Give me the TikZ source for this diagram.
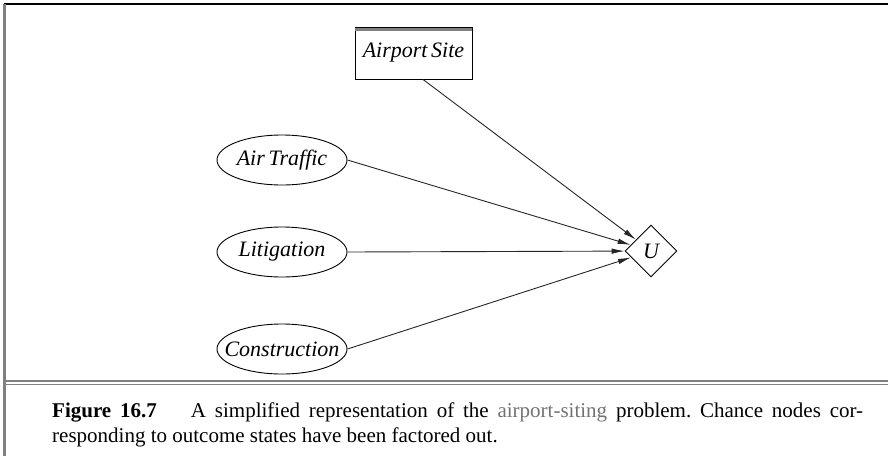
\documentclass[tikz,border=0pt]{standalone}
\usepackage{fontspec}
\setmainfont{Liberation Serif}
\usetikzlibrary{arrows.meta,positioning,shapes.geometric}

\begin{document}
\begin{tikzpicture}[x=1pt, y=-1pt, >={Latex[length=13pt, width=5.5pt]},
  every node/.style={font=\fontsize{22}{25}\selectfont\itshape},
  chance/.style={draw, ellipse, minimum width=130pt, minimum height=50pt, inner sep=0pt, line width=0.9pt},
  decision/.style={draw, rectangle, minimum width=117pt, minimum height=52pt, inner sep=0pt, line width=0.9pt},
  utility/.style={draw, diamond, minimum width=52pt, minimum height=52pt, inner sep=0pt, line width=0.9pt},
  link/.style={->, line width=0.9pt, black!85}]
\useasboundingbox (0,0) rectangle (888,456);
% frame
\draw[line width=1.7pt] (4,4) -- (888,4);
\draw[gray, line width=2.5pt] (4.7,4) -- (4.7,456);
\draw[gray, line width=1.6pt] (4,381) -- (888,381) (4,384.5) -- (888,384.5);
% nodes
\node[decision] (site) at (413.5,53) {\makebox[0pt]{Airport\,Site}};
\draw[gray, line width=3pt] ([yshift=-2.5pt]site.north west) -- ([yshift=-2.5pt]site.north east);
\node[chance] (traffic) at (282,160) {\makebox[0pt]{Air\,Traffic}};
\node[chance] (litig) at (282,252) {\makebox[0pt]{Litigation}};
\node[chance] (constr) at (282,349) {\makebox[0pt]{Construction}};
\node[utility] (u) at (651,251) {\makebox[0pt]{U}};
% links
\draw[link] ([xshift=9.5pt]site.south) -- (u);
\draw[link] (traffic.east) -- (u);
\draw[link] (litig.east) -- (u);
\draw[link] (constr.east) -- (u);
% caption
\node[anchor=north west, text width=811pt, align=justify, inner sep=0pt,
  font=\fontsize{21}{25}\selectfont\frenchspacing] (cap) at (52,402.5)
  {\textbf{Figure 16.7}\hspace{34pt}A simplified representation of the \textcolor{black!55}{airport-siting} problem. Chance nodes cor-\linebreak
   responding to outcome states have been factored out.};
\end{tikzpicture}
\end{document}
